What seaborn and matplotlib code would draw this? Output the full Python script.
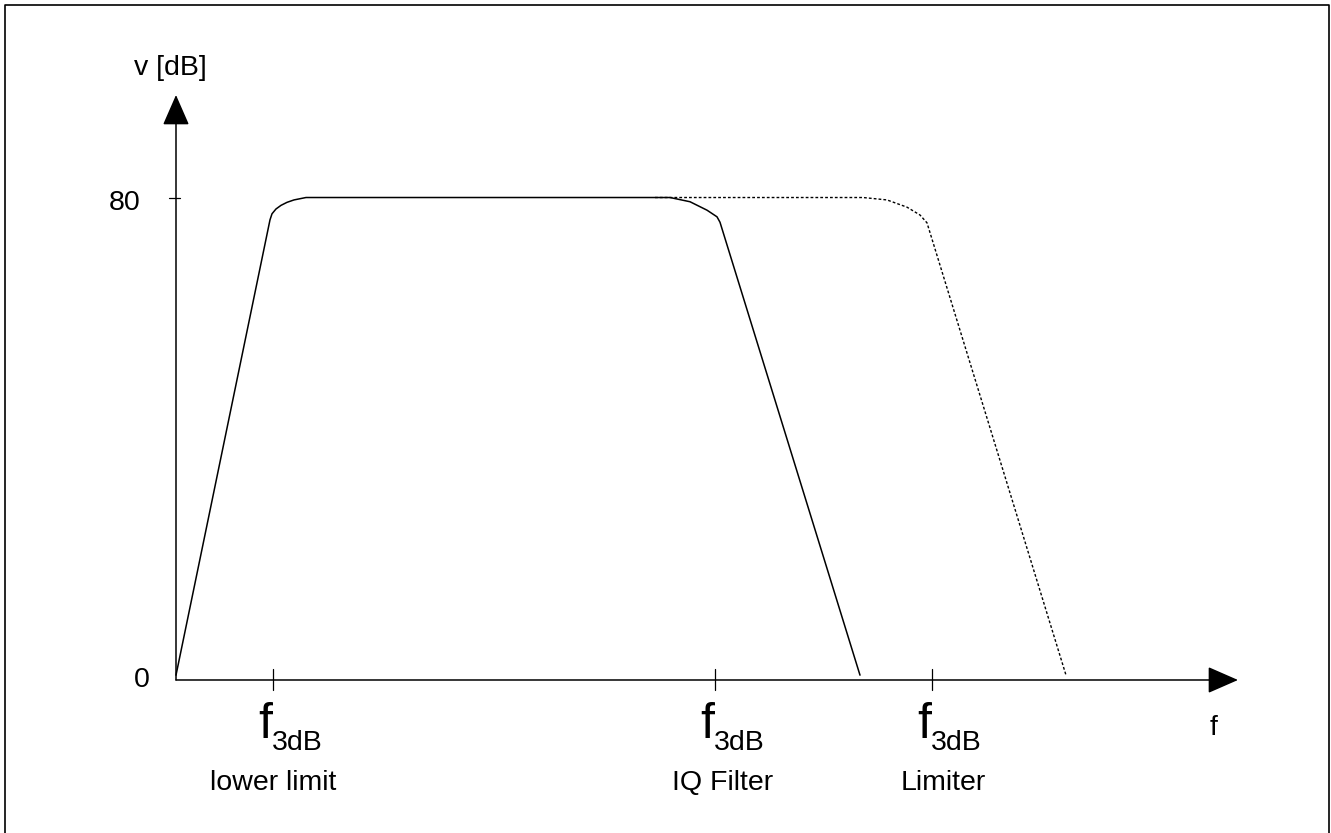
import numpy as np
import matplotlib
matplotlib.use("Agg")
import matplotlib.pyplot as plt
from matplotlib.lines import Line2D
import seaborn as sns

# ------------------------------------------------------------
# data (x: frequency in arbitrary units, y: gain in dB)
# ------------------------------------------------------------
iq_x = [0, 94, 96, 100, 105, 111, 118, 124, 130, 494, 514, 531, 541, 544, 684]
iq_y = [0.8, 76.3, 77.3, 78.1, 78.7, 79.2, 79.6, 79.8, 80, 80, 79.3, 77.9, 76.8, 75.9, 0.8]

lim_x = [479, 687, 711, 731, 744, 751, 890]
lim_y = [80, 80, 79.6, 78.4, 77.1, 75.8, 0.8]

f3db_ticks = [97, 539, 756]
f3db_names = ["lower limit", "IQ Filter", "Limiter"]
name_centers = [97, 547, 767]
y_ticks = [0, 80]
x_max = 1062
y_max = 97

sns.set_style("white")
plt.rcParams["font.family"] = ["Liberation Sans", "DejaVu Sans"]
plt.rcParams["text.color"] = "black"

fig = plt.figure(figsize=(13.31, 8.33), dpi=100)
ax = fig.add_axes([0, 0, 1, 1])
ax.set_xlim(-176, 1155)
ax.set_ylim(-25.37, 112.75)
ax.axis("off")

# curves
sns.lineplot(x=iq_x, y=iq_y, sort=False, estimator=None, color="black", lw=1.1, ax=ax)
sns.lineplot(x=lim_x, y=lim_y, sort=False, estimator=None, color="black", lw=1.0,
             linestyle=(0, (2, 1.5)), ax=ax)

# axes with arrows
arrow = dict(arrowstyle="-|>,head_length=0.8,head_width=0.35", mutation_scale=24,
             color="black", lw=1.1, shrinkA=0, shrinkB=0)
ax.annotate("", xy=(x_max, 0), xytext=(0, 0), arrowprops=arrow)
ax.annotate("", xy=(0, y_max), xytext=(0, 0), arrowprops=arrow)

# tick marks
for t in f3db_ticks:
    ax.plot([t, t], [-1.7, 1.8], color="black", lw=0.9)
ax.plot([-7, 4], [80, 80], color="black", lw=0.9)

# tick labels
ax.text(-36, 78.0, str(y_ticks[1]), ha="right", va="baseline", fontsize=20.5)
ax.text(-26, -1.24, str(y_ticks[0]), ha="right", va="baseline", fontsize=20.5)
for t, name, c in zip(f3db_ticks, f3db_names, name_centers):
    ax.text(t - 15, -9.6, "f", ha="left", va="baseline", fontsize=36)
    ax.text(t - 1, -11.6, "3dB", ha="left", va="baseline", fontsize=20.5)
    ax.text(c, -18.2, name, ha="center", va="baseline", fontsize=20.5)

# axis labels
ax.text(-6, 100.3, "v [dB]", ha="center", va="baseline", fontsize=20.5)
ax.text(1038, -9.1, "f", ha="center", va="baseline", fontsize=20.5)

# frame around the figure
W, H = 1331, 833
l, r, t_ = 5 / W, 1329 / W, 1 - 5 / H
fig.add_artist(Line2D([l, l, r, r], [-0.01, t_, t_, -0.01], transform=fig.transFigure,
                      color="black", lw=1.2))

fig.savefig("out.png", dpi=100)
